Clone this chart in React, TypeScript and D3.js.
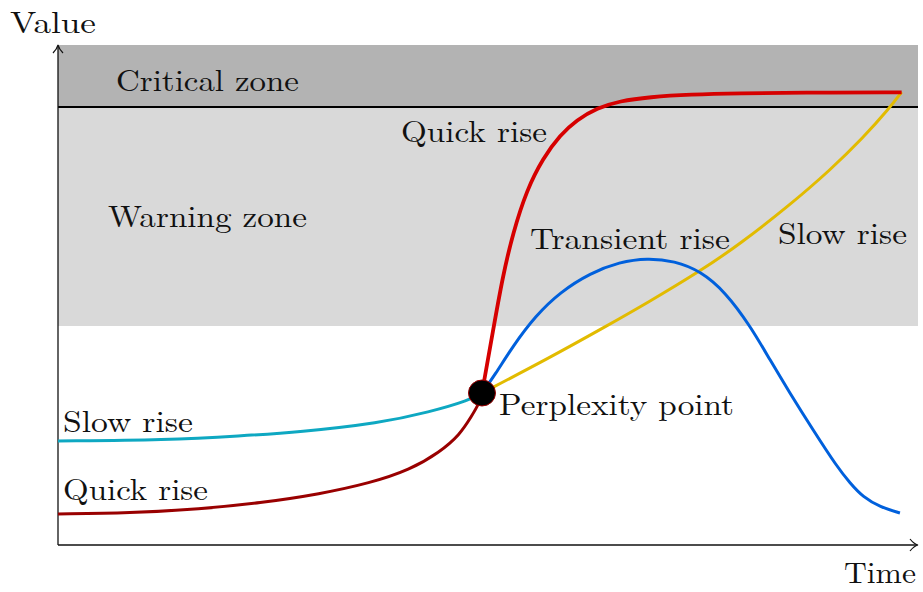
import React from "react";
import * as d3 from "d3";

// ---- data (x: time 0..100, y: value 0..100) ----
const perplexityPoint = { x: 49.3, y: 30.4 };

const slowRiseBeforeX = [0, 12.7, 21.2, 28.1, 37.4, 43.2, 47.9, 49.3];
const slowRiseBeforeY = [20.8, 21.0, 21.8, 22.6, 24.4, 26.6, 29.0, 30.4];

const quickRiseBeforeX = [0, 8.4, 16.5, 23.5, 30.5, 36.3, 40.9, 44.4, 46.7, 48.1, 49.0, 49.3];
const quickRiseBeforeY = [6.2, 6.4, 7.2, 8.4, 10.2, 12.4, 15.0, 18.6, 22.0, 25.8, 28.4, 30.4];

const quickRiseAfterX = [49.3, 50.6, 51.7, 52.9, 54.5, 56.4, 58.4, 60.3, 62.7, 65.3, 68.8, 73.5, 79.3, 86.3, 98.1];
const quickRiseAfterY = [30.4, 43.0, 53.6, 62.4, 71.0, 77.4, 82.0, 85.0, 87.4, 88.8, 89.6, 90.1, 90.34, 90.48, 90.54];

const transientX = [49.3, 50.8, 52.9, 55.5, 58.4, 61.9, 65.3, 68.5, 71.7, 74.7, 77.6, 80.5, 82.8, 85.1, 87.8, 90.6, 92.1, 93.6, 95.6, 97.9];
const transientY = [30.4, 34.0, 39.8, 45.8, 50.6, 54.4, 56.6, 57.4, 56.8, 54.8, 50.6, 43.8, 37.0, 30.4, 23.0, 15.6, 12.4, 9.6, 7.6, 6.4];

const slowRiseAfterX = [49.3, 56.9, 63.8, 68.5, 74.7, 79.3, 85.1, 89.8, 93.6, 96.7, 98.1];
const slowRiseAfterY = [30.4, 37.2, 43.8, 48.4, 54.8, 60.2, 68.0, 75.0, 81.4, 87.4, 90.6];

const warningZone = [43.8, 87.6];
const criticalZone = [87.6, 100];

const W = 923;
const H = 592;
const FONT = "'Latin Modern Roman', 'CMU Serif', 'Times New Roman', 'Liberation Serif', 'DejaVu Serif', 'Noto Serif', serif";

const x = d3.scaleLinear().domain([0, 100]).range([58, 918]);
const y = d3.scaleLinear().domain([0, 100]).range([545, 45]);

const line = d3
  .line<[number, number]>()
  .x((d) => x(d[0]))
  .y((d) => y(d[1]))
  .curve(d3.curveBasis);

const zip = (xs: number[], ys: number[]): [number, number][] => xs.map((v, i) => [v, ys[i]]);

const curves = [
  { xs: slowRiseBeforeX, ys: slowRiseBeforeY, color: "#0ea8c2", w: 3 },
  { xs: quickRiseBeforeX, ys: quickRiseBeforeY, color: "#990000", w: 3 },
  { xs: slowRiseAfterX, ys: slowRiseAfterY, color: "#e2bb00", w: 3 },
  { xs: transientX, ys: transientY, color: "#0060dc", w: 3 },
  { xs: quickRiseAfterX, ys: quickRiseAfterY, color: "#d60000", w: 3.8 },
];

const labels = [
  { t: "Value", x: 10, y: 33, w: 86 },
  { t: "Critical zone", x: 116, y: 91, w: 183 },
  { t: "Quick rise", x: 401, y: 142, w: 146 },
  { t: "Warning zone", x: 108, y: 227, w: 199 },
  { t: "Transient rise", x: 530, y: 249, w: 200 },
  { t: "Slow rise", x: 778, y: 244, w: 129 },
  { t: "Perplexity point", x: 499, y: 415, w: 235 },
  { t: "Slow rise", x: 63, y: 432, w: 130 },
  { t: "Quick rise", x: 63, y: 500, w: 145 },
  { t: "Time", x: 844, y: 583, w: 72 },
];

export default function App() {
  const x0 = x(0);
  const x1 = x(100);
  const y0 = y(0);
  const yTop = y(100);
  return (
    <svg
      width={W}
      height={H}
      viewBox={`0 0 ${W} ${H}`}
      style={{ position: "fixed", left: 0, top: 0, background: "#fff" }}
    >
      <rect x={x0} y={y(criticalZone[1])} width={x1 - x0} height={y(criticalZone[0]) - y(criticalZone[1])} fill="#b3b3b3" />
      <rect x={x0} y={y(warningZone[1])} width={x1 - x0} height={y(warningZone[0]) - y(warningZone[1])} fill="#d9d9d9" />
      <line x1={x0} x2={x1} y1={y(criticalZone[0])} y2={y(criticalZone[0])} stroke="#000" strokeWidth={2} />

      {/* axes */}
      <line x1={x0} x2={x0} y1={y0} y2={yTop + 1} stroke="#111" strokeWidth={1.3} />
      <line x1={x0} x2={x1 - 1} y1={y0} y2={y0} stroke="#111" strokeWidth={1.3} />
      <path
        d={`M${x0 - 5},${yTop + 8} Q${x0 - 1},${yTop + 4} ${x0},${yTop} Q${x0 + 1},${yTop + 4} ${x0 + 5},${yTop + 8}`}
        fill="none"
        stroke="#111"
        strokeWidth={1.2}
      />
      <path
        d={`M${x1 - 8},${y0 - 6} Q${x1 - 4},${y0 - 1} ${x1},${y0} Q${x1 - 4},${y0 + 1} ${x1 - 8},${y0 + 6}`}
        fill="none"
        stroke="#111"
        strokeWidth={1.2}
      />

      {curves.map((c, i) => (
        <path key={i} d={line(zip(c.xs, c.ys)) || ""} fill="none" stroke={c.color} strokeWidth={c.w} strokeLinecap="butt" />
      ))}

      <ellipse cx={x(perplexityPoint.x)} cy={y(perplexityPoint.y)} rx={13.5} ry={13} fill="#000" stroke="#990000" strokeWidth={1} />

      {labels.map((l, i) => (
        <text
          key={i}
          x={l.x}
          y={l.y}
          style={{ fontFamily: FONT }}
          fontSize={30}
          fill="#111"
          textLength={l.w}
          lengthAdjust="spacingAndGlyphs"
        >
          {l.t}
        </text>
      ))}
    </svg>
  );
}
